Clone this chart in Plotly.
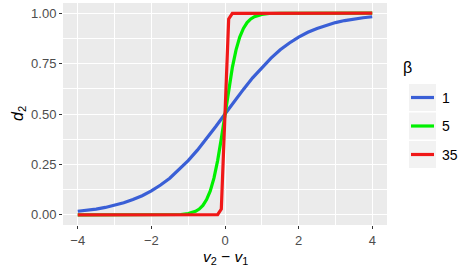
import plotly.graph_objects as go

# beta = 1 curve
x_b1 = [-4, -3.75, -3.5, -3.25, -3, -2.75, -2.5, -2.25, -2, -1.75, -1.5, -1.25, -1, -0.75, -0.5, -0.25,
        0, 0.25, 0.5, 0.75, 1, 1.25, 1.5, 1.75, 2, 2.25, 2.5, 2.75, 3, 3.25, 3.5, 3.75, 4]
y_b1 = [0.018, 0.023, 0.029, 0.037, 0.047, 0.060, 0.076, 0.095, 0.119, 0.148, 0.182, 0.223, 0.269, 0.321, 0.378, 0.438,
        0.5, 0.562, 0.622, 0.679, 0.731, 0.777, 0.818, 0.852, 0.881, 0.905, 0.924, 0.940, 0.953, 0.963, 0.971, 0.977, 0.982]

# beta = 5 curve
x_b5 = [-4, -2, -1.5, -1.2, -1, -0.8, -0.7, -0.6, -0.5, -0.4, -0.3, -0.2, -0.1, 0,
        0.1, 0.2, 0.3, 0.4, 0.5, 0.6, 0.7, 0.8, 1, 1.2, 1.5, 2, 4]
y_b5 = [0.0, 0.0, 0.001, 0.002, 0.007, 0.018, 0.029, 0.047, 0.076, 0.119, 0.182, 0.269, 0.378, 0.5,
        0.622, 0.731, 0.818, 0.881, 0.924, 0.953, 0.971, 0.982, 0.993, 0.998, 0.999, 1.0, 1.0]

# beta = 35 curve
x_b35 = [-4, -0.2, -0.1, 0, 0.1, 0.2, 4]
y_b35 = [0.0, 0.001, 0.029, 0.5, 0.971, 0.999, 1.0]

series_names = ["1", "5", "35"]
series_colors = ["#3A5FD6", "#00F000", "#F01818"]

x_ticks = [-4, -2, 0, 2, 4]
x_tick_labels = ["−4", "−2", "0", "2", "4"]
y_ticks = [0, 0.25, 0.5, 0.75, 1.0]
y_tick_labels = ["0.00", "0.25", "0.50", "0.75", "1.00"]

W, H = 459, 267
L, R, T, B = 63, 387, 3, 225   # plot panel in pixels


def px(xp):
    return (xp - L) / (R - L)


def py(yp):
    return (B - yp) / (B - T)


fig = go.Figure()
for xs, ys, name, col in zip([x_b1, x_b5, x_b35], [y_b1, y_b5, y_b35], series_names, series_colors):
    fig.add_trace(go.Scatter(x=xs, y=ys, mode="lines", name=name, showlegend=False,
                             line=dict(color=col, width=3.2)))

# legend drawn ggplot-style
shapes = []
annotations = [dict(x=px(401), y=py(67), xref="paper", yref="paper", text="β", showarrow=False,
                    xanchor="left", yanchor="middle", font=dict(size=16, color="black"))]
row_tops = [84, 112.5, 141]
for top, name, col in zip(row_tops, series_names, series_colors):
    shapes.append(dict(type="rect", xref="paper", yref="paper", x0=px(409), x1=px(436),
                       y0=py(top + 27), y1=py(top), fillcolor="#F2F2F2", line=dict(width=0), layer="below"))
    mid = top + 13.5
    shapes.append(dict(type="line", xref="paper", yref="paper", x0=px(411), x1=px(434),
                       y0=py(mid), y1=py(mid), line=dict(color=col, width=3.2)))
    annotations.append(dict(x=px(440), y=py(mid), xref="paper", yref="paper", text=name, showarrow=False,
                            xanchor="left", yanchor="middle", font=dict(size=14, color="black")))

annotations.append(dict(x=0.5, y=py(257.5), xref="paper", yref="paper",
                        text="<i>v</i><sub>2</sub> − <i>v</i><sub>1</sub>", showarrow=False,
                        xanchor="center", yanchor="middle", font=dict(size=15.5, color="black")))
annotations.append(dict(x=px(18), y=0.5, xref="paper", yref="paper",
                        text="<i>d</i><sub>2</sub>", showarrow=False, textangle=-90,
                        xanchor="center", yanchor="middle", font=dict(size=16, color="black")))

font = "Liberation Sans, Arial, sans-serif"
fig.update_layout(
    width=W, height=H,
    margin=dict(l=L, r=W - R, t=T, b=H - B, autoexpand=False),
    plot_bgcolor="#EBEBEB", paper_bgcolor="white",
    font=dict(family=font, size=13, color="#4D4D4D"),
    shapes=shapes, annotations=annotations, showlegend=False,
)
fig.update_xaxes(range=[-4.4, 4.4], tickvals=x_ticks, ticktext=x_tick_labels,
                 showgrid=True, gridcolor="white", gridwidth=1.1, zeroline=False,
                 ticks="outside", ticklen=3, tickcolor="#333333", tickwidth=1,
                 tickfont=dict(size=13, color="#4D4D4D"),
                 minor=dict(tickvals=[-3, -1, 1, 3], showgrid=True, gridcolor="white", gridwidth=0.5, ticks=""))
fig.update_yaxes(range=[-0.05, 1.05], tickvals=y_ticks, ticktext=y_tick_labels,
                 showgrid=True, gridcolor="white", gridwidth=1.1, zeroline=False,
                 ticks="outside", ticklen=3, tickcolor="#333333", tickwidth=1,
                 tickfont=dict(size=13, color="#4D4D4D"),
                 minor=dict(tickvals=[0.125, 0.375, 0.625, 0.875], showgrid=True, gridcolor="white",
                            gridwidth=0.5, ticks=""))

fig.write_html("out.html", config={"displayModeBar": False},
               post_script="document.body.style.margin='0';")
